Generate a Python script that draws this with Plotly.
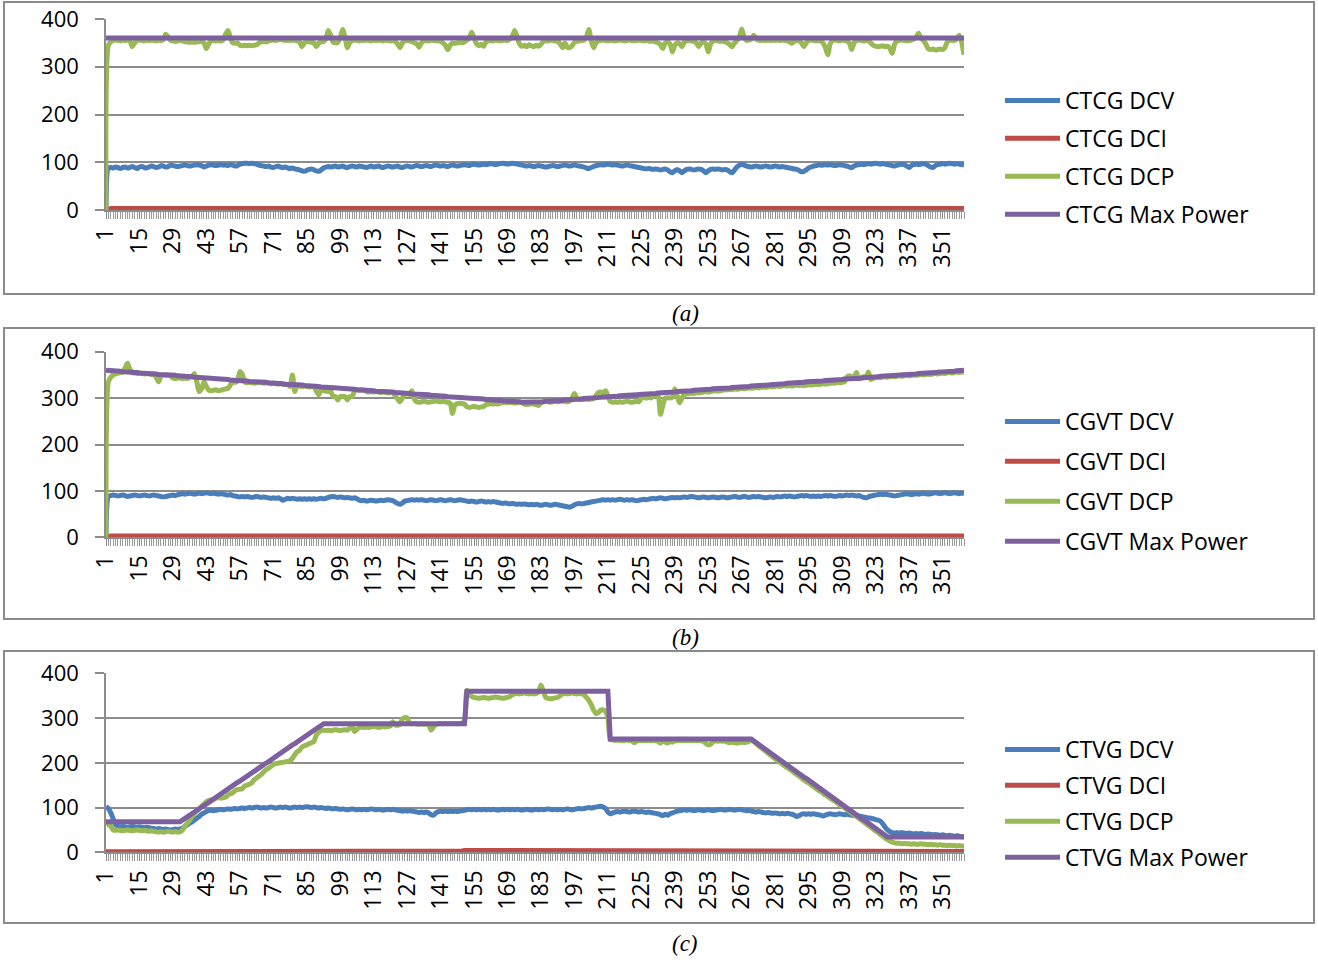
import plotly.graph_objects as go

W, H = 1318, 963

CATEGORIES = list(range(1, 361))
TICK_VALUES = [1, 15, 29, 43, 57, 71, 85, 99, 113, 127, 141, 155, 169, 183,
               197, 211, 225, 239, 253, 267, 281, 295, 309, 323, 337, 351]
TICK_LABELS = [str(v) for v in TICK_VALUES]
Y_TICKS = [0, 100, 200, 300, 400]

NAMES_A = ["CTCG DCV", "CTCG DCI", "CTCG DCP", "CTCG Max Power"]
NAMES_B = ["CGVT DCV", "CGVT DCI", "CGVT DCP", "CGVT Max Power"]
NAMES_C = ["CTVG DCV", "CTVG DCI", "CTVG DCP", "CTVG Max Power"]
CAPTIONS = ["(a)", "(b)", "(c)"]

# ---------------- panel (a) ----------------
DCV_A = [
    0, 88, 89, 88, 90, 89, 87, 89, 90, 88, 89, 91, 89, 87, 90, 91, 89, 88, 90, 92,
    91, 89, 90, 93, 92, 90, 91, 94, 93, 92, 91, 92, 93, 94, 93, 92, 93, 94, 95, 94,
    93, 90, 92, 94, 95, 94, 93, 94, 95, 94, 94, 93, 95, 94, 92, 93, 96, 97, 98, 98,
    97, 98, 97, 96, 94, 93, 92, 91, 92, 90, 89, 91, 92, 90, 89, 90, 88, 87, 88, 86,
    85, 84, 82, 81, 83, 85, 86, 84, 82, 81, 84, 88, 90, 91, 90, 91, 92, 90, 91, 92,
    90, 89, 91, 92, 91, 90, 92, 91, 90, 89, 91, 92, 90, 91, 92, 90, 89, 91, 92, 91,
    90, 91, 92, 90, 89, 91, 92, 91, 90, 92, 93, 92, 91, 92, 93, 92, 91, 93, 94, 93,
    92, 93, 92, 91, 93, 94, 93, 92, 93, 94, 95, 94, 93, 95, 96, 95, 94, 95, 96, 95,
    96, 97, 96, 95, 96, 97, 98, 97, 96, 97, 98, 97, 96, 95, 94, 93, 92, 93, 92, 91,
    92, 93, 92, 91, 90, 91, 92, 93, 92, 91, 92, 93, 94, 93, 92, 93, 94, 93, 92, 91,
    90, 88, 87, 89, 91, 93, 94, 95, 94, 95, 96, 95, 94, 95, 94, 93, 92, 93, 94, 93,
    92, 91, 90, 89, 88, 87, 86, 87, 86, 85, 86, 85, 84, 85, 86, 84, 80, 78, 82, 85,
    82, 78, 82, 85, 86, 85, 84, 85, 86, 85, 82, 78, 82, 85, 86, 85, 86, 85, 84, 85,
    84, 80, 78, 84, 90, 94, 96, 94, 92, 91, 90, 91, 92, 91, 90, 91, 92, 91, 90, 91,
    92, 91, 90, 91, 90, 89, 88, 87, 86, 85, 83, 80, 81, 84, 88, 90, 92, 93, 94, 94,
    94, 95, 94, 95, 94, 93, 94, 95, 94, 93, 92, 90, 89, 92, 94, 95, 96, 95, 96, 97,
    96, 97, 98, 97, 96, 97, 96, 95, 94, 93, 92, 94, 95, 96, 95, 92, 89, 93, 95, 96,
    95, 96, 97, 96, 93, 90, 89, 93, 95, 96, 97, 96, 97, 98, 97, 96, 97, 96, 95, 94,
]
DCI_A = [
    0, 2, 3, 3, 3, 2, 3, 3, 3, 3, 2, 3, 3, 3, 3, 3, 2, 3, 3, 3,
    3, 3, 2, 3, 3, 3, 3, 3, 3, 2, 3, 3, 3, 3, 3, 3, 2, 3, 3, 3,
    3, 3, 3, 3, 2, 3, 3, 3, 3, 3, 3, 3, 3, 2, 3, 3, 3, 3, 3, 3,
    3, 3, 2, 3, 3, 3, 3, 3, 3, 2, 3, 3, 3, 3, 3, 3, 2, 3, 3, 3,
    3, 3, 3, 3, 2, 3, 3, 3, 3, 3, 3, 3, 3, 2, 3, 3, 3, 3, 3, 3,
    3, 3, 2, 3, 3, 3, 3, 3, 3, 2, 3, 3, 3, 3, 3, 3, 2, 3, 3, 3,
    3, 3, 3, 3, 2, 3, 3, 3, 3, 3, 3, 3, 3, 2, 3, 3, 3, 3, 3, 3,
    3, 3, 2, 3, 3, 3, 3, 3, 3, 2, 3, 3, 3, 3, 3, 3, 2, 3, 3, 3,
    3, 3, 3, 3, 2, 3, 3, 3, 3, 3, 3, 3, 3, 2, 3, 3, 3, 3, 3, 3,
    3, 3, 2, 3, 3, 3, 3, 3, 3, 2, 3, 3, 3, 3, 3, 3, 2, 3, 3, 3,
    3, 3, 3, 3, 2, 3, 3, 3, 3, 3, 3, 3, 3, 2, 3, 3, 3, 3, 3, 3,
    3, 3, 2, 3, 3, 3, 3, 3, 3, 2, 3, 3, 3, 3, 3, 3, 2, 3, 3, 3,
    3, 3, 3, 3, 2, 3, 3, 3, 3, 3, 3, 3, 3, 2, 3, 3, 3, 3, 3, 3,
    3, 3, 2, 3, 3, 3, 3, 3, 3, 2, 3, 3, 3, 3, 3, 3, 2, 3, 3, 3,
    3, 3, 3, 3, 2, 3, 3, 3, 3, 3, 3, 3, 3, 2, 3, 3, 3, 3, 3, 3,
    3, 3, 2, 3, 3, 3, 3, 3, 3, 2, 3, 3, 3, 3, 3, 3, 2, 3, 3, 3,
    3, 3, 3, 3, 2, 3, 3, 3, 3, 3, 3, 3, 3, 2, 3, 3, 3, 3, 3, 3,
    3, 3, 2, 3, 3, 3, 3, 3, 3, 2, 3, 3, 3, 3, 3, 3, 2, 3, 3, 3,
]
DCP_A = [
    0, 345, 352, 355, 356, 355, 354, 356, 355, 356, 354, 342, 350, 355, 356, 355, 354, 356, 355, 356,
    355, 354, 356, 355, 357, 368, 362, 355, 354, 353, 354, 355, 354, 353, 352, 351, 352, 351, 352, 353,
    354, 350, 338, 348, 354, 355, 354, 355, 354, 356, 368, 376, 362, 350, 349, 350, 345, 344, 345, 344,
    345, 344, 345, 346, 350, 352, 353, 352, 354, 355, 356, 355, 356, 357, 356, 355, 356, 355, 356, 355,
    354, 352, 342, 350, 353, 352, 351, 350, 342, 349, 352, 353, 358, 376, 366, 352, 350, 351, 360, 378,
    362, 340, 350, 355, 356, 355, 354, 356, 355, 356, 355, 354, 356, 355, 356, 355, 354, 356, 355, 354,
    355, 353, 348, 340, 350, 354, 355, 354, 353, 350, 348, 341, 350, 354, 355, 354, 356, 355, 354, 355,
    353, 350, 345, 336, 345, 350, 349, 350, 351, 350, 352, 356, 360, 372, 360, 348, 344, 347, 343, 352,
    354, 355, 354, 356, 355, 354, 355, 356, 355, 358, 364, 376, 362, 348, 343, 345, 342, 346, 344, 342,
    345, 343, 347, 353, 355, 354, 356, 355, 354, 353, 348, 340, 350, 341, 340, 344, 351, 353, 354, 355,
    356, 362, 378, 355, 340, 350, 354, 355, 356, 355, 354, 356, 355, 354, 355, 356, 355, 354, 355, 356,
    355, 354, 355, 356, 355, 354, 355, 354, 353, 354, 352, 350, 346, 338, 350, 352, 348, 331, 345, 350,
    348, 342, 352, 354, 355, 354, 353, 350, 342, 350, 352, 348, 331, 348, 354, 355, 354, 353, 354, 352,
    350, 346, 342, 350, 355, 362, 379, 362, 355, 356, 358, 366, 358, 356, 355, 356, 355, 356, 355, 356,
    355, 356, 355, 356, 355, 354, 352, 349, 353, 355, 354, 350, 342, 350, 355, 356, 355, 354, 355, 354,
    350, 340, 325, 348, 355, 356, 355, 354, 356, 355, 354, 350, 336, 350, 355, 356, 355, 354, 355, 354,
    350, 345, 343, 342, 343, 344, 342, 343, 338, 328, 348, 354, 355, 356, 355, 354, 355, 356, 358, 362,
    370, 360, 355, 348, 338, 336, 337, 335, 336, 337, 336, 340, 352, 355, 356, 355, 358, 366, 352, 325,
]
MAXP_A = [
    360, 360, 360, 360, 360, 360, 360, 360, 360, 360, 360, 360, 360, 360, 360, 360, 360, 360, 360, 360,
    360, 360, 360, 360, 360, 360, 360, 360, 360, 360, 360, 360, 360, 360, 360, 360, 360, 360, 360, 360,
    360, 360, 360, 360, 360, 360, 360, 360, 360, 360, 360, 360, 360, 360, 360, 360, 360, 360, 360, 360,
    360, 360, 360, 360, 360, 360, 360, 360, 360, 360, 360, 360, 360, 360, 360, 360, 360, 360, 360, 360,
    360, 360, 360, 360, 360, 360, 360, 360, 360, 360, 360, 360, 360, 360, 360, 360, 360, 360, 360, 360,
    360, 360, 360, 360, 360, 360, 360, 360, 360, 360, 360, 360, 360, 360, 360, 360, 360, 360, 360, 360,
    360, 360, 360, 360, 360, 360, 360, 360, 360, 360, 360, 360, 360, 360, 360, 360, 360, 360, 360, 360,
    360, 360, 360, 360, 360, 360, 360, 360, 360, 360, 360, 360, 360, 360, 360, 360, 360, 360, 360, 360,
    360, 360, 360, 360, 360, 360, 360, 360, 360, 360, 360, 360, 360, 360, 360, 360, 360, 360, 360, 360,
    360, 360, 360, 360, 360, 360, 360, 360, 360, 360, 360, 360, 360, 360, 360, 360, 360, 360, 360, 360,
    360, 360, 360, 360, 360, 360, 360, 360, 360, 360, 360, 360, 360, 360, 360, 360, 360, 360, 360, 360,
    360, 360, 360, 360, 360, 360, 360, 360, 360, 360, 360, 360, 360, 360, 360, 360, 360, 360, 360, 360,
    360, 360, 360, 360, 360, 360, 360, 360, 360, 360, 360, 360, 360, 360, 360, 360, 360, 360, 360, 360,
    360, 360, 360, 360, 360, 360, 360, 360, 360, 360, 360, 360, 360, 360, 360, 360, 360, 360, 360, 360,
    360, 360, 360, 360, 360, 360, 360, 360, 360, 360, 360, 360, 360, 360, 360, 360, 360, 360, 360, 360,
    360, 360, 360, 360, 360, 360, 360, 360, 360, 360, 360, 360, 360, 360, 360, 360, 360, 360, 360, 360,
    360, 360, 360, 360, 360, 360, 360, 360, 360, 360, 360, 360, 360, 360, 360, 360, 360, 360, 360, 360,
    360, 360, 360, 360, 360, 360, 360, 360, 360, 360, 360, 360, 360, 360, 360, 360, 360, 360, 360, 360,
]

# ---------------- panel (b) ----------------
DCV_B = [
    0, 88, 90, 91, 90, 89, 90, 91, 90, 88, 89, 90, 91, 90, 89, 90, 91, 90, 89, 90,
    91, 90, 89, 88, 87, 88, 89, 90, 91, 90, 92, 93, 94, 93, 94, 95, 94, 93, 94, 95,
    94, 95, 96, 95, 94, 95, 94, 93, 94, 93, 92, 91, 92, 90, 89, 88, 87, 88, 87, 88,
    87, 86, 87, 88, 87, 86, 87, 86, 85, 84, 85, 84, 85, 83, 80, 82, 84, 83, 84, 83,
    82, 83, 82, 83, 82, 83, 82, 83, 82, 83, 84, 83, 84, 86, 87, 88, 87, 86, 87, 86,
    85, 86, 85, 84, 85, 83, 80, 79, 80, 78, 79, 80, 79, 78, 79, 80, 79, 80, 81, 80,
    79, 76, 73, 71, 74, 78, 79, 80, 81, 80, 81, 80, 81, 80, 79, 80, 81, 80, 79, 80,
    81, 80, 79, 80, 81, 80, 79, 80, 81, 80, 79, 78, 77, 78, 77, 76, 77, 78, 77, 76,
    77, 76, 77, 76, 75, 74, 73, 74, 73, 72, 73, 72, 71, 72, 71, 72, 71, 70, 71, 70,
    71, 70, 69, 70, 71, 70, 69, 70, 71, 70, 69, 68, 67, 66, 65, 67, 70, 72, 73, 72,
    73, 74, 75, 76, 77, 78, 79, 80, 81, 80, 81, 80, 81, 80, 81, 82, 81, 80, 81, 80,
    81, 80, 79, 80, 81, 82, 81, 82, 83, 84, 83, 84, 85, 84, 83, 84, 85, 86, 85, 86,
    85, 86, 87, 86, 87, 88, 87, 86, 85, 86, 87, 86, 85, 86, 87, 86, 85, 86, 87, 86,
    85, 86, 87, 88, 87, 86, 87, 88, 87, 86, 87, 88, 87, 88, 87, 86, 85, 86, 87, 86,
    87, 88, 87, 88, 89, 88, 89, 88, 87, 88, 89, 90, 89, 90, 89, 88, 89, 88, 89, 88,
    89, 90, 89, 90, 89, 88, 89, 90, 89, 90, 91, 90, 91, 90, 89, 90, 88, 86, 85, 87,
    89, 90, 91, 92, 93, 92, 93, 92, 91, 90, 89, 90, 91, 92, 93, 94, 93, 92, 93, 94,
    93, 94, 95, 94, 93, 94, 95, 96, 95, 94, 95, 96, 95, 94, 95, 96, 95, 94, 95, 94,
]
DCI_B = [
    0, 2, 3, 3, 3, 3, 3, 3, 3, 3, 3, 3, 2, 3, 3, 3, 3, 3, 3, 3,
    3, 3, 3, 3, 2, 3, 3, 3, 3, 3, 3, 3, 3, 4, 3, 3, 3, 3, 3, 3,
    3, 3, 3, 3, 2, 3, 3, 3, 3, 3, 3, 3, 3, 4, 3, 3, 3, 3, 3, 3,
    3, 3, 3, 3, 2, 3, 3, 3, 3, 3, 3, 3, 3, 4, 3, 3, 3, 3, 3, 3,
    3, 3, 3, 3, 2, 3, 3, 3, 3, 3, 3, 3, 3, 4, 3, 3, 3, 3, 3, 3,
    3, 3, 3, 3, 2, 3, 3, 3, 3, 3, 3, 3, 3, 4, 3, 3, 3, 3, 3, 3,
    3, 3, 3, 3, 2, 3, 3, 3, 3, 3, 3, 3, 3, 4, 3, 3, 3, 3, 3, 3,
    3, 3, 3, 3, 2, 3, 3, 3, 3, 3, 3, 3, 3, 4, 3, 3, 3, 3, 3, 3,
    3, 3, 3, 3, 2, 3, 3, 3, 3, 3, 3, 3, 3, 4, 3, 3, 3, 3, 3, 3,
    3, 3, 3, 3, 2, 3, 3, 3, 3, 3, 3, 3, 3, 4, 3, 3, 3, 3, 3, 3,
    3, 3, 3, 3, 2, 3, 3, 3, 3, 3, 3, 3, 3, 4, 3, 3, 3, 3, 3, 3,
    3, 3, 3, 3, 2, 3, 3, 3, 3, 3, 3, 3, 3, 4, 3, 3, 3, 3, 3, 3,
    3, 3, 3, 3, 2, 3, 3, 3, 3, 3, 3, 3, 3, 4, 3, 3, 3, 3, 3, 3,
    3, 3, 3, 3, 2, 3, 3, 3, 3, 3, 3, 3, 3, 4, 3, 3, 3, 3, 3, 3,
    3, 3, 3, 3, 2, 3, 3, 3, 3, 3, 3, 3, 3, 4, 3, 3, 3, 3, 3, 3,
    3, 3, 3, 3, 2, 3, 3, 3, 3, 3, 3, 3, 3, 4, 3, 3, 3, 3, 3, 3,
    3, 3, 3, 3, 2, 3, 3, 3, 3, 3, 3, 3, 3, 4, 3, 3, 3, 3, 3, 3,
    3, 3, 3, 3, 2, 3, 3, 3, 3, 3, 3, 3, 3, 4, 3, 3, 3, 3, 3, 3,
]
DCP_B = [
    0, 335, 345, 350, 352, 354, 355, 356, 365, 375, 362, 355, 354, 353, 354, 353, 352, 353, 352, 351,
    351, 345, 335, 348, 350, 349, 350, 348, 343, 342, 343, 344, 342, 343, 342, 345, 346, 353, 335, 314,
    320, 335, 325, 317, 316, 317, 318, 316, 317, 318, 320, 321, 328, 335, 334, 336, 357, 352, 335, 333,
    334, 333, 332, 333, 334, 333, 332, 333, 332, 331, 332, 331, 330, 331, 330, 329, 330, 325, 350, 314,
    328, 326, 325, 326, 325, 324, 325, 324, 315, 307, 318, 316, 315, 314, 315, 304, 303, 296, 303, 304,
    303, 296, 303, 304, 315, 318, 317, 318, 317, 314, 313, 314, 313, 314, 313, 312, 313, 312, 311, 312,
    311, 305, 298, 292, 300, 308, 309, 308, 316, 298, 292, 291, 292, 293, 292, 291, 292, 293, 294, 293,
    292, 293, 292, 291, 289, 267, 285, 288, 289, 288, 287, 281, 280, 281, 282, 281, 280, 281, 282, 286,
    287, 288, 287, 288, 287, 289, 290, 291, 290, 291, 290, 289, 290, 291, 290, 287, 286, 287, 288, 287,
    286, 284, 290, 292, 293, 292, 291, 292, 293, 292, 293, 294, 293, 292, 294, 300, 310, 300, 297, 298,
    297, 298, 297, 298, 299, 305, 312, 313, 312, 316, 305, 293, 291, 292, 291, 292, 291, 292, 293, 292,
    291, 292, 293, 292, 300, 301, 300, 302, 300, 305, 306, 305, 265, 285, 300, 301, 300, 302, 320, 305,
    290, 300, 308, 309, 310, 311, 310, 312, 311, 312, 313, 314, 313, 314, 315, 316, 315, 316, 317, 318,
    318, 319, 318, 320, 319, 320, 321, 320, 321, 322, 321, 322, 323, 322, 323, 324, 323, 324, 325, 324,
    325, 326, 325, 326, 327, 326, 327, 326, 327, 328, 327, 328, 327, 328, 329, 328, 329, 330, 329, 330,
    331, 330, 331, 332, 333, 332, 334, 333, 334, 335, 345, 348, 346, 345, 355, 342, 345, 346, 345, 356,
    340, 343, 344, 345, 344, 345, 346, 345, 346, 347, 346, 347, 348, 347, 348, 349, 348, 349, 350, 349,
    350, 351, 350, 351, 352, 351, 352, 353, 352, 353, 354, 353, 354, 355, 354, 355, 356, 355, 356, 355,
]
MAXP_B = [
    360, 360, 359, 359, 358, 358, 358, 357, 357, 356, 356, 356, 355, 355, 354, 354, 354, 353, 353, 352,
    352, 352, 351, 351, 351, 350, 350, 349, 349, 349, 348, 348, 347, 347, 347, 346, 346, 345, 345, 345,
    344, 344, 343, 343, 343, 342, 342, 341, 341, 341, 340, 340, 339, 339, 339, 338, 338, 337, 337, 337,
    336, 336, 335, 335, 335, 334, 334, 334, 333, 333, 332, 332, 332, 331, 331, 330, 330, 330, 329, 329,
    328, 328, 328, 327, 327, 326, 326, 326, 325, 325, 324, 324, 324, 323, 323, 322, 322, 322, 321, 321,
    320, 320, 320, 319, 319, 318, 318, 318, 317, 317, 316, 316, 316, 315, 315, 315, 314, 314, 313, 313,
    313, 312, 312, 311, 311, 311, 310, 310, 309, 309, 309, 308, 308, 307, 307, 307, 306, 306, 305, 305,
    305, 304, 304, 303, 303, 303, 302, 302, 301, 301, 301, 300, 300, 300, 299, 299, 298, 298, 298, 297,
    297, 296, 296, 296, 295, 295, 294, 294, 294, 293, 293, 292, 292, 292, 291, 291, 290, 290, 290, 291,
    291, 292, 292, 292, 293, 293, 293, 294, 294, 295, 295, 295, 296, 296, 297, 297, 297, 298, 298, 298,
    299, 299, 300, 300, 300, 301, 301, 302, 302, 302, 303, 303, 303, 304, 304, 305, 305, 305, 306, 306,
    307, 307, 307, 308, 308, 308, 309, 309, 310, 310, 310, 311, 311, 312, 312, 312, 313, 313, 313, 314,
    314, 315, 315, 315, 316, 316, 317, 317, 317, 318, 318, 318, 319, 319, 320, 320, 320, 321, 321, 322,
    322, 322, 323, 323, 323, 324, 324, 325, 325, 325, 326, 326, 327, 327, 327, 328, 328, 328, 329, 329,
    330, 330, 330, 331, 331, 332, 332, 332, 333, 333, 333, 334, 334, 335, 335, 335, 336, 336, 337, 337,
    337, 338, 338, 338, 339, 339, 340, 340, 340, 341, 341, 342, 342, 342, 343, 343, 343, 344, 344, 345,
    345, 345, 346, 346, 347, 347, 347, 348, 348, 348, 349, 349, 350, 350, 350, 351, 351, 352, 352, 352,
    353, 353, 353, 354, 354, 355, 355, 355, 356, 356, 357, 357, 357, 358, 358, 358, 359, 359, 360, 360,
]

# ---------------- panel (c) ----------------
DCV_C = [
    102, 98, 88, 75, 62, 58, 57, 58, 57, 56, 57, 58, 57, 56, 57, 56, 55, 56, 55, 54,
    53, 52, 53, 52, 51, 52, 51, 50, 51, 52, 51, 52, 54, 58, 61, 65, 68, 72, 76, 80,
    85, 88, 91, 93, 94, 93, 94, 95, 96, 95, 96, 97, 96, 97, 98, 97, 98, 99, 98, 99,
    100, 99, 100, 101, 100, 99, 100, 99, 100, 101, 100, 99, 100, 101, 100, 101, 100, 99, 100, 101,
    100, 101, 100, 101, 102, 101, 100, 101, 100, 99, 100, 99, 98, 99, 98, 97, 98, 97, 96, 97,
    96, 95, 96, 97, 96, 95, 96, 95, 96, 95, 96, 97, 96, 95, 96, 95, 94, 95, 96, 95,
    96, 95, 94, 93, 92, 93, 92, 93, 92, 91, 90, 89, 90, 89, 90, 88, 84, 83, 88, 91,
    92, 91, 92, 91, 92, 91, 92, 91, 92, 93, 94, 95, 96, 95, 96, 95, 96, 95, 96, 95,
    96, 95, 96, 95, 94, 95, 96, 95, 96, 95, 96, 95, 96, 95, 94, 95, 96, 95, 94, 95,
    96, 95, 96, 95, 96, 97, 96, 95, 96, 95, 96, 95, 96, 97, 96, 95, 96, 97, 98, 97,
    98, 99, 100, 99, 100, 101, 102, 103, 101, 98, 90, 86, 88, 90, 91, 90, 91, 92, 91, 90,
    91, 92, 91, 90, 91, 90, 89, 90, 89, 88, 87, 86, 84, 82, 85, 83, 86, 88, 90, 92,
    93, 94, 95, 94, 95, 94, 93, 94, 95, 94, 93, 94, 95, 94, 93, 94, 95, 96, 95, 94,
    95, 96, 95, 94, 95, 96, 95, 94, 93, 94, 92, 91, 90, 91, 90, 89, 88, 89, 88, 87,
    88, 87, 86, 87, 86, 87, 86, 85, 83, 80, 82, 85, 86, 85, 86, 85, 86, 85, 84, 83,
    81, 83, 85, 86, 85, 84, 85, 86, 85, 84, 85, 84, 83, 82, 82, 81, 80, 79, 78, 77,
    76, 75, 73, 72, 70, 64, 56, 50, 46, 44, 43, 44, 43, 44, 43, 42, 43, 42, 41, 42,
    41, 42, 41, 40, 41, 40, 39, 40, 39, 38, 39, 38, 37, 38, 37, 36, 37, 36, 35, 35,
]
DCI_C = [
    1, 1, 1, 1, 1, 1, 1, 1, 1, 1, 1, 1, 1, 1, 1, 1, 1, 1, 1, 1,
    1, 1, 1, 1, 1, 1, 1, 1, 1, 1, 1, 1, 1, 2, 2, 2, 2, 2, 2, 2,
    2, 2, 2, 2, 2, 2, 2, 2, 2, 2, 2, 2, 2, 2, 2, 2, 2, 2, 2, 2,
    2, 2, 2, 2, 2, 3, 3, 3, 3, 3, 3, 3, 3, 3, 3, 3, 3, 3, 3, 3,
    3, 3, 3, 3, 3, 3, 3, 3, 3, 3, 3, 3, 3, 3, 3, 3, 3, 3, 3, 3,
    3, 3, 3, 3, 3, 3, 3, 3, 3, 3, 3, 3, 3, 3, 3, 3, 3, 3, 3, 3,
    3, 3, 3, 3, 3, 3, 3, 3, 3, 3, 3, 3, 3, 3, 3, 3, 3, 3, 3, 3,
    3, 3, 3, 3, 3, 3, 3, 3, 3, 3, 4, 4, 4, 4, 4, 4, 4, 4, 4, 4,
    4, 4, 4, 4, 4, 4, 4, 4, 4, 4, 4, 4, 4, 4, 4, 4, 4, 4, 4, 4,
    4, 4, 4, 4, 4, 4, 4, 4, 4, 4, 4, 4, 4, 4, 4, 4, 4, 4, 4, 4,
    4, 4, 4, 4, 4, 4, 4, 4, 4, 4, 4, 4, 4, 4, 4, 4, 4, 4, 4, 4,
    4, 4, 4, 4, 4, 4, 4, 4, 4, 4, 4, 4, 4, 4, 4, 4, 4, 4, 4, 4,
    4, 4, 4, 4, 4, 4, 4, 4, 4, 4, 3, 3, 3, 3, 3, 3, 3, 3, 3, 3,
    3, 3, 3, 3, 3, 3, 3, 3, 3, 3, 3, 3, 3, 3, 3, 3, 3, 3, 3, 3,
    3, 3, 3, 3, 3, 3, 3, 3, 3, 3, 3, 3, 3, 3, 3, 3, 3, 3, 3, 3,
    3, 3, 3, 3, 3, 3, 3, 3, 3, 3, 2, 2, 2, 2, 2, 2, 2, 2, 2, 2,
    2, 2, 2, 2, 2, 2, 2, 2, 2, 2, 2, 2, 2, 2, 2, 2, 2, 2, 2, 2,
    2, 2, 2, 2, 2, 2, 2, 2, 2, 2, 2, 2, 2, 2, 2, 2, 2, 2, 2, 2,
]
DCP_C = [
    61, 63, 58, 50, 49, 50, 49, 48, 49, 50, 49, 48, 49, 50, 49, 48, 49, 48, 47, 48,
    47, 46, 45, 46, 45, 46, 47, 46, 45, 46, 45, 46, 50, 58, 65, 72, 80, 87, 92, 97,
    103, 108, 113, 116, 117, 118, 121, 122, 121, 122, 123, 128, 131, 133, 138, 140, 141, 142, 148, 150,
    152, 155, 162, 166, 170, 174, 180, 185, 188, 192, 196, 198, 199, 200, 201, 202, 203, 205, 210, 218,
    225, 228, 235, 238, 240, 243, 245, 248, 262, 268, 272, 273, 272, 273, 272, 273, 274, 273, 272, 273,
    274, 273, 278, 281, 270, 275, 279, 280, 279, 280, 279, 280, 281, 280, 279, 280, 281, 280, 281, 282,
    292, 285, 284, 286, 298, 301, 300, 289, 287, 288, 287, 286, 287, 286, 287, 285, 273, 280, 286, 287,
    288, 287, 288, 287, 288, 287, 288, 287, 288, 289, 292, 362, 355, 348, 346, 345, 344, 345, 346, 345,
    344, 345, 346, 347, 346, 345, 344, 345, 346, 348, 352, 354, 355, 354, 355, 356, 355, 354, 355, 354,
    355, 358, 374, 360, 346, 344, 343, 344, 345, 346, 350, 354, 355, 354, 355, 356, 355, 354, 355, 354,
    352, 346, 340, 330, 318, 310, 312, 318, 318, 315, 300, 252, 251, 250, 251, 250, 249, 250, 251, 250,
    249, 245, 248, 250, 249, 250, 249, 250, 249, 250, 249, 248, 244, 249, 246, 244, 248, 246, 250, 249,
    250, 249, 250, 249, 250, 249, 250, 249, 250, 249, 248, 243, 240, 241, 247, 249, 248, 249, 248, 249,
    246, 245, 246, 245, 244, 245, 246, 245, 246, 248, 250, 247, 243, 238, 234, 230, 226, 221, 217, 213,
    209, 205, 201, 197, 193, 189, 186, 182, 178, 174, 170, 166, 162, 158, 155, 151, 147, 143, 139, 136,
    132, 128, 125, 121, 117, 114, 110, 106, 103, 99, 95, 92, 88, 84, 80, 76, 72, 68, 64, 60,
    56, 52, 48, 44, 40, 36, 32, 28, 25, 23, 21, 20, 20, 19, 20, 19, 19, 18, 19, 18,
    18, 19, 18, 18, 17, 18, 17, 17, 16, 17, 16, 16, 15, 16, 15, 15, 14, 15, 14, 14,
]
MAXP_C = [
    68, 68, 68, 68, 68, 68, 68, 68, 68, 68, 68, 68, 68, 68, 68, 68, 68, 68, 68, 68,
    68, 68, 68, 68, 68, 68, 68, 68, 68, 68, 68, 68, 72, 75, 79, 83, 86, 90, 94, 97,
    101, 105, 108, 112, 115, 119, 123, 126, 130, 134, 137, 141, 145, 148, 152, 156, 159, 163, 167, 170,
    174, 178, 181, 185, 188, 192, 196, 199, 203, 207, 210, 214, 218, 221, 225, 229, 232, 236, 240, 243,
    247, 251, 254, 258, 261, 265, 269, 272, 276, 280, 283, 287, 287, 287, 287, 287, 287, 287, 287, 287,
    287, 287, 287, 287, 287, 287, 287, 287, 287, 287, 287, 287, 287, 287, 287, 287, 287, 287, 287, 287,
    287, 287, 287, 287, 287, 287, 287, 287, 287, 287, 287, 287, 287, 287, 287, 287, 287, 287, 287, 287,
    287, 287, 287, 287, 287, 287, 287, 287, 287, 287, 287, 360, 360, 360, 360, 360, 360, 360, 360, 360,
    360, 360, 360, 360, 360, 360, 360, 360, 360, 360, 360, 360, 360, 360, 360, 360, 360, 360, 360, 360,
    360, 360, 360, 360, 360, 360, 360, 360, 360, 360, 360, 360, 360, 360, 360, 360, 360, 360, 360, 360,
    360, 360, 360, 360, 360, 360, 360, 360, 360, 360, 360, 253, 253, 253, 253, 253, 253, 253, 253, 253,
    253, 253, 253, 253, 253, 253, 253, 253, 253, 253, 253, 253, 253, 253, 253, 253, 253, 253, 253, 253,
    253, 253, 253, 253, 253, 253, 253, 253, 253, 253, 253, 253, 253, 253, 253, 253, 253, 253, 253, 253,
    253, 253, 253, 253, 253, 253, 253, 253, 253, 253, 253, 249, 245, 241, 238, 234, 230, 226, 222, 218,
    215, 211, 207, 203, 199, 195, 192, 188, 184, 180, 176, 172, 168, 165, 161, 157, 153, 149, 145, 142,
    138, 134, 130, 126, 122, 119, 115, 111, 107, 103, 99, 95, 92, 88, 84, 80, 76, 72, 69, 65,
    61, 57, 53, 49, 46, 42, 38, 34, 34, 34, 34, 34, 34, 34, 34, 34, 34, 34, 34, 34,
    34, 34, 34, 34, 34, 34, 34, 34, 34, 34, 34, 34, 34, 34, 34, 34, 34, 34, 34, 34,
]

COLORS = ["#4A7EBB", "#BE4B48", "#98B954", "#7D60A0"]
SMOOTH = [True, False, True, False]

PANELS = [
    dict(names=NAMES_A, series=[DCV_A, DCI_A, DCP_A, MAXP_A],
         plot_top=19, plot_bottom=210, box_top=2, box_bottom=294,
         cap_y=314, leg_top=79, gap=5),
    dict(names=NAMES_B, series=[DCV_B, DCI_B, DCP_B, MAXP_B],
         plot_top=351.7, plot_bottom=537.3, box_top=328, box_bottom=619,
         cap_y=637, leg_top=400, gap=7),
    dict(names=NAMES_C, series=[DCV_C, DCI_C, DCP_C, MAXP_C],
         plot_top=673.3, plot_bottom=852.3, box_top=651, box_bottom=923,
         cap_y=943, leg_top=728, gap=3),
]

PLOT_LEFT, PLOT_RIGHT = 106, 964
GRID = "#8C8C8C"
FONT = "Open Sans"


def px_x(v):
    return v / W


def px_y(v):
    return 1 - v / H


fig = go.Figure()
layout = dict(
    width=W, height=H, margin=dict(l=0, r=0, t=0, b=0),
    paper_bgcolor="white", plot_bgcolor="white", template="none",
    font=dict(family=FONT, color="black"), showlegend=True,
    shapes=[], annotations=[],
)

for k, p in enumerate(PANELS):
    sfx = "" if k == 0 else str(k + 1)
    xname, yname = "x" + sfx, "y" + sfx
    lname = "legend" + sfx
    for j, (name, vals) in enumerate(zip(p["names"], p["series"])):
        fig.add_trace(go.Scatter(
            x=CATEGORIES[:len(vals)], y=vals, name=name, mode="lines",
            line=dict(color=COLORS[j], width=5,
                      shape="spline" if SMOOTH[j] else "linear",
                      smoothing=0.7 if SMOOTH[j] else None),
            xaxis=xname, yaxis=yname, legend=lname,
            legendgroup=f"g{k}_{j}",
        ))
    layout["xaxis" + sfx] = dict(
        domain=[px_x(PLOT_LEFT), px_x(PLOT_RIGHT)], anchor=yname,
        range=[1, 360], tickmode="array", tickvals=TICK_VALUES,
        ticktext=TICK_LABELS, tickangle=-90, ticks="outside", ticklen=7,
        tickcolor=GRID, tickwidth=1, showgrid=False, zeroline=False,
        showline=True, linecolor=GRID, linewidth=1.5,
        tickfont=dict(family=FONT, size=23, color="black"),
        minor=dict(ticks="outside", tick0=1, dtick=1, ticklen=7,
                   tickcolor="#9A9A9A", tickwidth=1, showgrid=False),
        automargin=False, fixedrange=True,
    )
    layout["yaxis" + sfx] = dict(
        domain=[px_y(p["plot_bottom"]), px_y(p["plot_top"])], anchor=xname,
        range=[0, 400], tickmode="array", tickvals=Y_TICKS,
        ticks="outside", ticklen=9, tickcolor=GRID, tickwidth=1.5,
        showgrid=True, gridcolor=GRID, gridwidth=1.8, zeroline=False,
        showline=True, linecolor=GRID, linewidth=1.5,
        tickfont=dict(family=FONT, size=22, color="black"),
        ticklabelstandoff=12, automargin=False, fixedrange=True,
    )
    layout[lname] = dict(
        x=px_x(1000), xanchor="left", y=px_y(p["leg_top"]), yanchor="top",
        bgcolor="rgba(0,0,0,0)", borderwidth=0, tracegroupgap=p["gap"],
        font=dict(family=FONT, size=23, color="black"), itemwidth=55,
        orientation="v",
    )
    layout["shapes"].append(dict(
        type="rect", xref="paper", yref="paper",
        x0=px_x(4), x1=px_x(1314), y0=px_y(p["box_bottom"]), y1=px_y(p["box_top"]),
        line=dict(color="#8A8A8A", width=2), fillcolor="rgba(0,0,0,0)", layer="below",
    ))
    layout["annotations"].append(dict(
        text="<i>" + CAPTIONS[k] + "</i>", xref="paper", yref="paper",
        x=px_x(685), y=px_y(p["cap_y"]), xanchor="center", yanchor="middle",
        showarrow=False, font=dict(family="Liberation Serif", size=23, color="black"),
    ))

fig.update_layout(**layout)
fig.write_html("out.html")
